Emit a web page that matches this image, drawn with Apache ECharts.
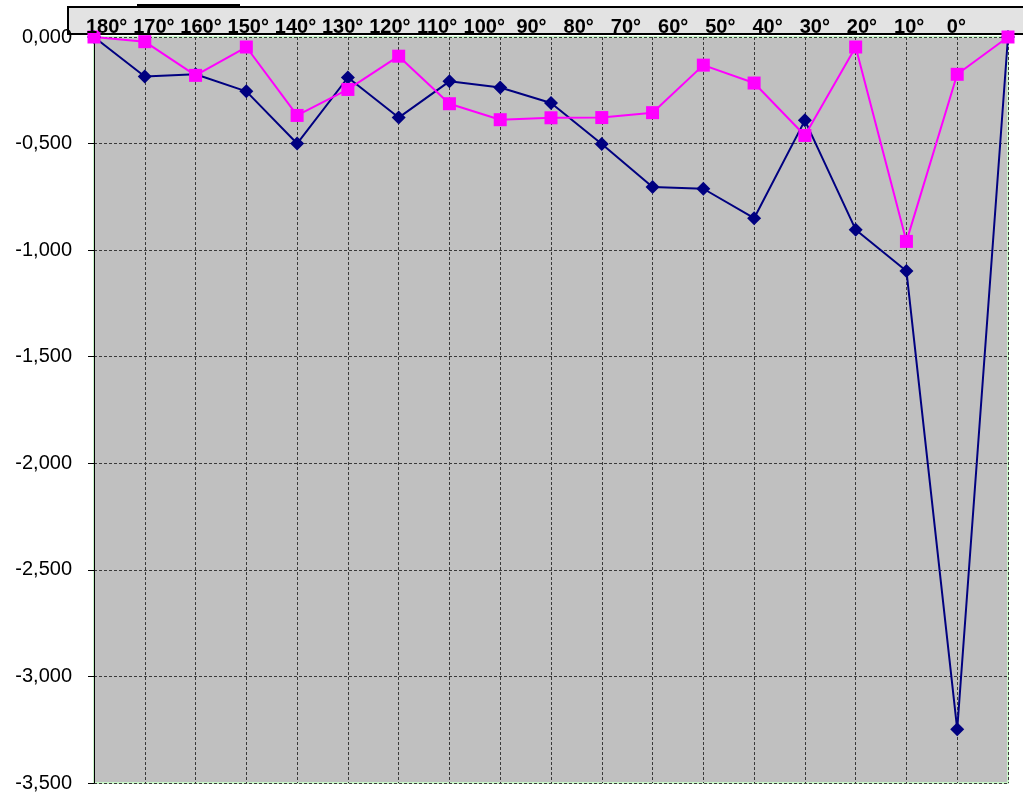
<!DOCTYPE html>
<html>
<head>
    <meta charset="utf-8" />
    <title></title>
    <script src="https://cdn.jsdelivr.net/npm/echarts@6/dist/echarts.min.js"></script>
    <style>
    body { margin: 0; background: #fff; }
    #main { width: 1023px; height: 795px; }
    </style>
</head>
<body>
    <div id="main"></div>
    <script type="text/javascript">
        // angle labels (header box) and the two measured series
        var angles = ['180°', '170°', '160°', '150°', '140°', '130°', '120°', '110°', '100°', '90°',
                      '80°', '70°', '60°', '50°', '40°', '30°', '20°', '10°', '0°'];
        var blueValues = [0, -0.185, -0.175, -0.255, -0.500, -0.190, -0.378, -0.208, -0.237, -0.310,
                          -0.502, -0.704, -0.712, -0.850, -0.391, -0.904, -1.098, -3.248, 0];
        var pinkValues = [0, -0.022, -0.180, -0.047, -0.368, -0.246, -0.090, -0.313, -0.388, -0.379,
                          -0.378, -0.355, -0.132, -0.216, -0.462, -0.047, -0.959, -0.175, 0];
        var yMin = -3.5, yMax = 0, yStep = 0.5;

        var font = 'Arial, "Liberation Sans", sans-serif';
        var myChart = echarts.init(document.getElementById('main'));

        myChart.setOption({
            animation: false,
            backgroundColor: '#ffffff',
            graphic: [
                {
                    type: 'line', z: 0,
                    shape: { x1: 137, y1: 5, x2: 240, y2: 5 },
                    style: { stroke: '#000', lineWidth: 2 }
                },
                {
                    type: 'rect', z: 0,
                    shape: { x: 68, y: 7, width: 970, height: 27 },
                    style: { fill: '#e3e3e3', stroke: '#000', lineWidth: 2 }
                }
            ],
            grid: [
                {
                    left: 94, right: 15, top: 37, bottom: 12,
                    show: true,
                    backgroundColor: '#c0c0c0',
                    borderColor: '#c8f5c8',
                    borderWidth: 2
                },
                // header row: labels spaced independently of the plot
                { left: 83, right: 43, top: 4, height: 10, show: false }
            ],
            xAxis: [
                {
                    gridIndex: 0,
                    type: 'category',
                    data: angles,
                    boundaryGap: false,
                    axisLine: { show: false },
                    axisTick: { show: false },
                    axisLabel: { show: false },
                    splitLine: { show: true, lineStyle: { color: '#3a3a3a', type: [3, 2], width: 1 } }
                },
                {
                    gridIndex: 1,
                    type: 'category',
                    data: angles,
                    position: 'bottom',
                    axisLine: { show: false },
                    axisTick: { show: false },
                    splitLine: { show: false },
                    axisLabel: {
                        margin: 3,
                        interval: 0,
                        color: '#000',
                        fontFamily: font,
                        fontWeight: 'bold',
                        fontSize: 20
                    },
                    z: 10
                }
            ],
            yAxis: [
                {
                    gridIndex: 0,
                    type: 'value',
                    min: yMin,
                    max: yMax,
                    interval: yStep,
                    axisLine: { show: true, lineStyle: { color: '#000', width: 1 } },
                    axisTick: { show: true, length: 6, lineStyle: { color: '#000' } },
                    axisLabel: {
                        margin: 22,
                        color: '#000',
                        fontFamily: font,
                        fontSize: 20,
                        formatter: function (v) {
                            return v.toFixed(3).replace('.', ',');
                        }
                    },
                    splitLine: { show: true, lineStyle: { color: '#3a3a3a', type: [3, 2], width: 1 } }
                },
                { gridIndex: 1, type: 'value', show: false }
            ],
            series: [
                {
                    type: 'line',
                    xAxisIndex: 0,
                    yAxisIndex: 0,
                    data: blueValues,
                    symbol: 'diamond',
                    symbolSize: 14,
                    clip: false,
                    lineStyle: { color: '#000080', width: 2 },
                    itemStyle: { color: '#000080' }
                },
                {
                    type: 'line',
                    xAxisIndex: 0,
                    yAxisIndex: 0,
                    data: pinkValues,
                    symbol: 'rect',
                    symbolSize: 13,
                    clip: false,
                    lineStyle: { color: '#ff00ff', width: 2 },
                    itemStyle: { color: '#ff00ff' }
                }
            ]
        });
    </script>
</body>
</html>
